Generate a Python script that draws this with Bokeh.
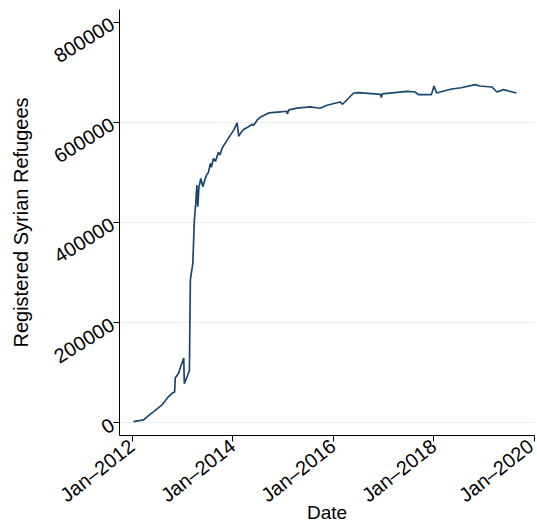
import math
from datetime import datetime
from bokeh.plotting import figure
from bokeh.models import FixedTicker, Range1d, ColumnDataSource
from bokeh.embed import file_html
from bokeh.resources import INLINE

# ---- data ----
dates = [
    "2012-01-12", "2012-03-25", "2012-04-30", "2012-06-18", "2012-08-08",
    "2012-09-24", "2012-10-20", "2012-11-06", "2012-11-10", "2012-12-05",
    "2012-12-16", "2013-01-11", "2013-01-15", "2013-02-21", "2013-02-28",
    "2013-03-18", "2013-03-26", "2013-03-29", "2013-04-09", "2013-04-16",
    "2013-04-23", "2013-05-01", "2013-05-15", "2013-05-30", "2013-06-13",
    "2013-06-25", "2013-07-09", "2013-07-24", "2013-07-31", "2013-08-15",
    "2013-08-29", "2013-09-20", "2013-10-01", "2013-10-16", "2013-11-03",
    "2013-11-22", "2013-12-10", "2014-01-08", "2014-02-03", "2014-02-14",
    "2014-03-04", "2014-03-22", "2014-04-20", "2014-05-23", "2014-06-03",
    "2014-06-28", "2014-07-20", "2014-09-20", "2014-11-25", "2015-01-30",
    "2015-02-03", "2015-02-14", "2015-04-13", "2015-07-17", "2015-09-28",
    "2015-11-18", "2016-02-21", "2016-03-10", "2016-05-30", "2016-07-06",
    "2016-12-10", "2016-12-17", "2016-12-24", "2017-06-21", "2017-08-19",
    "2017-09-13", "2017-12-16", "2018-01-04", "2018-01-22", "2018-05-12",
    "2018-07-20", "2018-10-30", "2018-12-02", "2019-02-28", "2019-04-06",
    "2019-05-23", "2019-08-26",
]
refugees = [
    2500, 6000, 14500, 25000, 36500,
    53000, 59500, 61700, 89600, 99600,
    109500, 129500, 78000, 104000, 285500,
    318700, 381700, 405000, 440000, 474700,
    431500, 470000, 488000, 471300, 485000,
    494600, 500000, 518000, 510000, 528000,
    522000, 540000, 535000, 548000, 556000,
    564000, 572000, 584000, 598800, 572300,
    580000, 585600, 590000, 596200, 594000,
    604200, 610000, 618700, 620500, 622100,
    616500, 625000, 628500, 631000, 628100,
    634100, 640700, 636100, 658600, 659400,
    656000, 649400, 657000, 662000, 660600,
    655400, 655400, 672500, 658600, 666600,
    669000, 675300, 672500, 670600, 660600,
    665300, 658600,
]
x_tick_dates = ["2012-01-01", "2014-01-01", "2016-01-01", "2018-01-01", "2020-01-01"]
x_tick_labels = ["Jan\u20132012", "Jan\u20132014", "Jan\u20132016", "Jan\u20132018", "Jan\u20132020"]
y_ticks = [0, 200000, 400000, 600000, 800000]
y_tick_labels = ["0", "200000", "400000", "600000", "800000"]
grid_values = [0, 200000, 400000, 600000]
x_title = "Date"
y_title = "Registered Syrian Refugees"


def ms(s):
    d = datetime.strptime(s, "%Y-%m-%d")
    return (d - datetime(1970, 1, 1)).total_seconds() * 1000.0


xs = [ms(d) for d in dates]
src = ColumnDataSource(dict(x=xs, y=refugees))

FONT = "Liberation Sans"

p = figure(
    width=537, height=525,
    output_backend="svg", toolbar_location=None,
    x_range=Range1d(ms("2011-10-02"), ms("2020-01-04")),
    y_range=Range1d(-25300, 825300),
    min_border_left=119, min_border_right=3, min_border_top=9, min_border_bottom=89,
)
p.outline_line_color = None
p.background_fill_color = "white"
p.border_fill_color = "white"

p.line("x", "y", source=src, line_color="#1a476f", line_width=1.7)

x_ticks = [ms(d) for d in x_tick_dates]
p.xaxis.ticker = FixedTicker(ticks=x_ticks)
p.xaxis.major_label_overrides = {t: l for t, l in zip(x_ticks, x_tick_labels)}
p.yaxis.ticker = FixedTicker(ticks=y_ticks)
p.yaxis.major_label_overrides = {t: l for t, l in zip(y_ticks, y_tick_labels)}

p.xgrid.visible = False
p.ygrid.ticker = FixedTicker(ticks=grid_values)
p.ygrid.grid_line_color = "#e6eff1"
p.ygrid.grid_line_width = 1

for ax in (p.xaxis, p.yaxis):
    ax.axis_line_color = "black"
    ax.major_tick_line_color = "black"
    ax.major_tick_in = 0
    ax.major_tick_out = 6
    ax.minor_tick_line_color = None
    ax.major_label_text_font = FONT
    ax.major_label_text_font_size = "20px"
    ax.major_label_text_color = "black"
    ax.axis_label_text_font = FONT
    ax.axis_label_text_font_style = "normal"
    ax.axis_label_text_color = "black"

p.xaxis.major_label_orientation = math.radians(38)
p.yaxis.major_label_orientation = math.radians(32)
p.xaxis.axis_label = x_title
p.yaxis.axis_label = y_title
p.xaxis.axis_label_text_font_size = "19px"
p.yaxis.axis_label_text_font_size = "20px"
p.xaxis.major_label_standoff = 2
p.xaxis.axis_label_standoff = -16
p.yaxis.major_label_standoff = 1
p.yaxis.axis_label_standoff = 13

open("out.html", "w").write(file_html(p, INLINE))
